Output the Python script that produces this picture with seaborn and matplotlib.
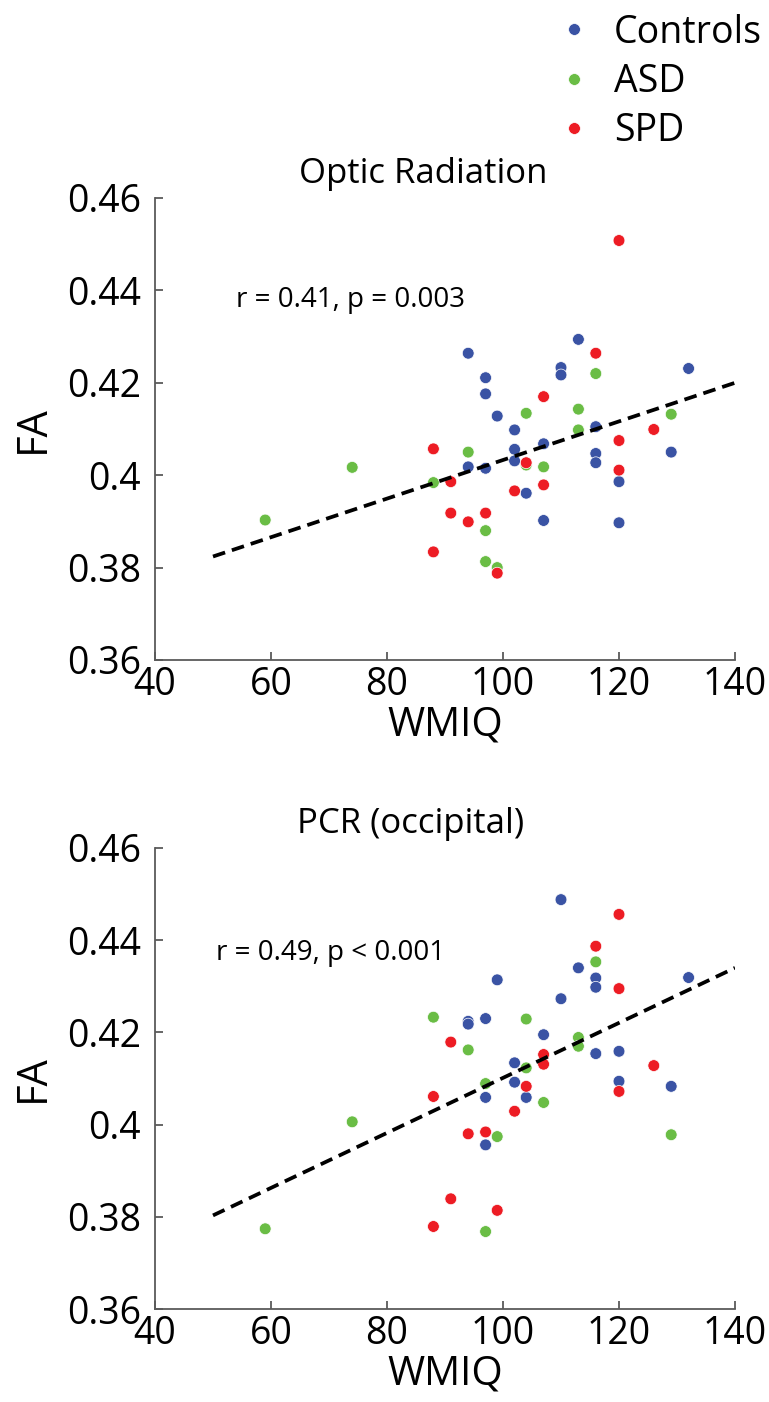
import numpy as np
import pandas as pd
import matplotlib
matplotlib.use("Agg")
import matplotlib.pyplot as plt
import seaborn as sns
from matplotlib.lines import Line2D

# ---------------- data ----------------
groups = ["Controls", "ASD", "SPD"]
group_colors = ["#3A53A4", "#6ABD45", "#ED1C24"]

# Optic Radiation
or_ctrl_wmiq = [94, 97, 97, 99, 110, 110, 113, 116, 132, 102, 129, 102, 102, 107, 94, 97, 116, 116, 120, 104, 107, 120]
or_ctrl_fa = [0.4264, 0.4211, 0.4176, 0.4128, 0.4233, 0.4217, 0.4294, 0.4105, 0.4231, 0.4098, 0.4050,
              0.4056, 0.4031, 0.4068, 0.4018, 0.4015, 0.4047, 0.4027, 0.3986, 0.3961, 0.3902, 0.3897]
or_asd_wmiq = [59, 74, 88, 94, 97, 97, 99, 104, 104, 107, 113, 113, 116, 129]
or_asd_fa = [0.3903, 0.4017, 0.3984, 0.4050, 0.3880, 0.3813, 0.3800, 0.4134, 0.4022, 0.4018, 0.4143,
             0.4098, 0.4220, 0.4132]
or_spd_wmiq = [88, 88, 91, 91, 94, 97, 99, 102, 104, 107, 107, 116, 120, 120, 120, 126]
or_spd_fa = [0.4057, 0.3834, 0.3986, 0.3918, 0.3899, 0.3918, 0.3788, 0.3966, 0.4027, 0.4170, 0.3979,
             0.4264, 0.4508, 0.4075, 0.4011, 0.4099]

# PCR (occipital)
pcr_ctrl_wmiq = [94, 94, 97, 97, 97, 99, 102, 102, 104, 107, 110, 110, 113, 116, 116, 116, 120, 120, 129, 132]
pcr_ctrl_fa = [0.4224, 0.4218, 0.4230, 0.4059, 0.3956, 0.4314, 0.4134, 0.4092, 0.4059, 0.4195, 0.4488,
               0.4273, 0.4340, 0.4318, 0.4298, 0.4154, 0.4159, 0.4094, 0.4083, 0.4319]
pcr_asd_wmiq = [59, 74, 88, 94, 97, 97, 99, 104, 104, 107, 113, 113, 116, 129]
pcr_asd_fa = [0.3774, 0.4006, 0.4233, 0.4162, 0.4089, 0.3768, 0.3974, 0.4229, 0.4123, 0.4048, 0.4189,
              0.4170, 0.4353, 0.3978]
pcr_spd_wmiq = [88, 88, 91, 91, 94, 97, 99, 102, 104, 107, 107, 116, 120, 120, 120, 126]
pcr_spd_fa = [0.4061, 0.3779, 0.4179, 0.3839, 0.3980, 0.3984, 0.3814, 0.4029, 0.4083, 0.4152, 0.4131,
              0.4387, 0.4456, 0.4295, 0.4072, 0.4128]

# regression lines (end points)
fit_wmiq = [50, 140]
or_fit_fa = [0.3824, 0.4200]
pcr_fit_fa = [0.3803, 0.4340]

titles = ["Optic Radiation", "PCR (occipital)"]
stats_text = ["r = 0.41, p = 0.003", "r = 0.49, p < 0.001"]
x_ticks = [40, 60, 80, 100, 120, 140]
y_ticks = [0.36, 0.38, 0.40, 0.42, 0.44, 0.46]
y_ticklabels = ["0.36", "0.38", "0.4", "0.42", "0.44", "0.46"]


def make_df(cx, cy, ax_, ay, sx, sy):
    return pd.DataFrame({
        "WMIQ": list(cx) + list(ax_) + list(sx),
        "FA": list(cy) + list(ay) + list(sy),
        "group": ["Controls"] * len(cx) + ["ASD"] * len(ax_) + ["SPD"] * len(sx),
    })


panels = [
    dict(df=make_df(or_ctrl_wmiq, or_ctrl_fa, or_asd_wmiq, or_asd_fa, or_spd_wmiq, or_spd_fa),
         fit=or_fit_fa, title=titles[0], text=stats_text[0], text_pos=(54, 0.4379), title_x=0.462),
    dict(df=make_df(pcr_ctrl_wmiq, pcr_ctrl_fa, pcr_asd_wmiq, pcr_asd_fa, pcr_spd_wmiq, pcr_spd_fa),
         fit=pcr_fit_fa, title=titles[1], text=stats_text[1], text_pos=(50.6, 0.4373), title_x=0.44),
]

# ---------------- style ----------------
spine_c = "#5a5a5a"
sns.set_style("white", {"xtick.bottom": True, "ytick.left": True,
                        "xtick.direction": "in", "ytick.direction": "in",
                        "xtick.color": spine_c, "ytick.color": spine_c})
plt.rcParams["font.family"] = ["Open Sans", "DejaVu Sans"]
plt.rcParams["text.color"] = "black"
plt.rcParams["axes.labelcolor"] = "black"
plt.rcParams["xtick.major.size"] = 6
plt.rcParams["ytick.major.size"] = 6
plt.rcParams["xtick.major.width"] = 1.3
plt.rcParams["ytick.major.width"] = 1.3

W, H = 769, 1402
fig = plt.figure(figsize=(W / 100, H / 100), dpi=100)

axes_px = [(155, 198, 735, 660), (155, 848, 735, 1309)]
palette = dict(zip(groups, group_colors))

for (l, t, r, b), p in zip(axes_px, panels):
    ax = fig.add_axes([l / W, 1 - b / H, (r - l) / W, (b - t) / H])
    sns.scatterplot(data=p["df"], x="WMIQ", y="FA", hue="group", palette=palette,
                    hue_order=groups, s=72, edgecolor="white", linewidth=0.5,
                    legend=False, ax=ax, zorder=3)
    ax.plot(fit_wmiq, p["fit"], color="black", lw=2.7, dashes=(3.4, 1.9), zorder=4)
    ax.set_xlim(40, 140)
    ax.set_ylim(0.36, 0.46)
    ax.set_xticks(x_ticks)
    ax.set_yticks(y_ticks)
    ax.set_yticklabels(y_ticklabels)
    for s in ["top", "right"]:
        ax.spines[s].set_visible(False)
    for s in ["left", "bottom"]:
        ax.spines[s].set_color(spine_c)
        ax.spines[s].set_linewidth(1.3)
    ax.tick_params(axis="both", which="major", bottom=True, left=True,
                   direction="in", length=6, width=1.3, color=spine_c,
                   labelsize=27, labelcolor="black")
    ax.tick_params(axis="x", pad=4)
    ax.tick_params(axis="y", pad=10)
    ax.set_xlabel("WMIQ", fontsize=29)
    ax.set_ylabel("FA", fontsize=30)
    ax.xaxis.set_label_coords(0.5, -0.098)
    ax.yaxis.set_label_coords(-0.175, 0.5)
    ax.set_title(p["title"], fontsize=25, x=p["title_x"], pad=11, color="black")
    ax.text(p["text_pos"][0], p["text_pos"][1], p["text"], fontsize=20,
            va="center", ha="left", color="black")

handles = [Line2D([0], [0], marker="o", linestyle="", markersize=8.5,
                  markerfacecolor=c, markeredgecolor="white", markeredgewidth=0.5)
           for c in group_colors]
fig.legend(handles, groups, loc="upper left", bbox_to_anchor=(0.703, 1.001),
           frameon=False, fontsize=27, handletextpad=0.55, labelspacing=0.3,
           borderaxespad=0.0, handlelength=1.0)

fig.savefig("out.png", dpi=100)
